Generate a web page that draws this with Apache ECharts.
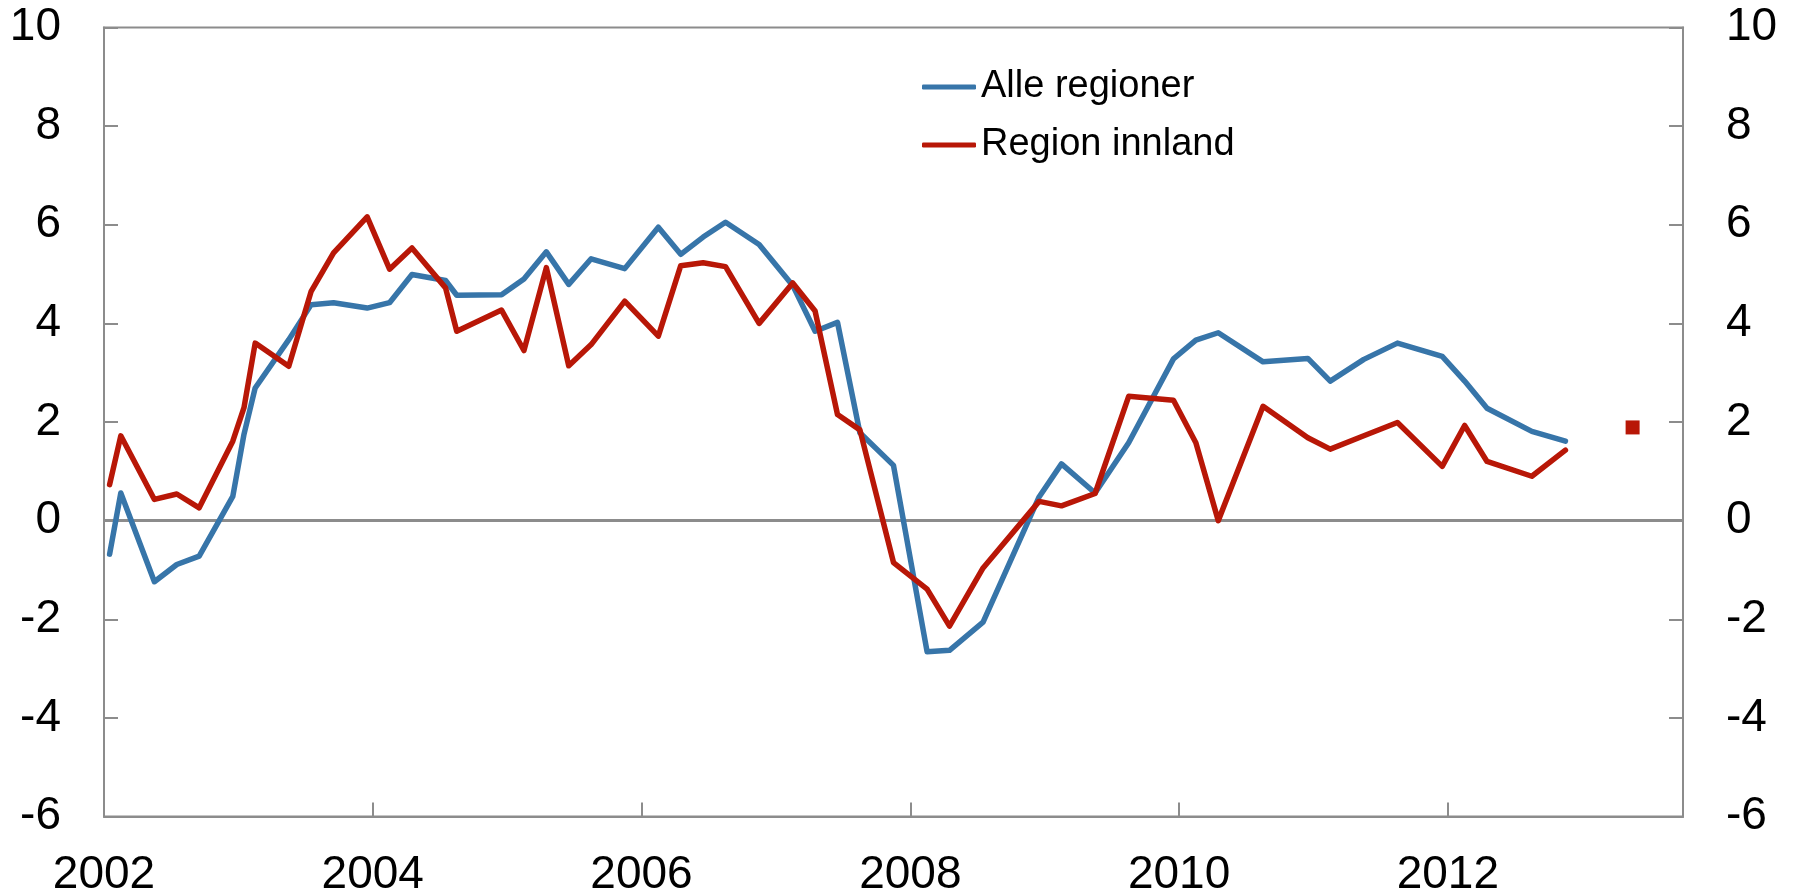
<!DOCTYPE html>
<html>
<head>
<meta charset="utf-8">
<script src="https://cdn.jsdelivr.net/npm/echarts@6/dist/echarts.min.js"></script>
<style>
html,body{margin:0;padding:0;background:#fff;}
#chart{width:1795px;height:895px;}
</style>
</head>
<body>
<div id="chart"></div>
<script>
// Survey dates (year-month)
const dates = [
  '2002-01','2002-02','2002-05','2002-07','2002-09','2002-12',
  '2003-01','2003-02','2003-05','2003-07','2003-09','2003-12',
  '2004-02','2004-04','2004-07','2004-08','2004-12',
  '2005-02','2005-04','2005-06','2005-08','2005-11',
  '2006-02','2006-04','2006-06','2006-08','2006-11',
  '2007-02','2007-04','2007-06','2007-08','2007-11',
  '2008-02','2008-04','2008-07','2008-12',
  '2009-02','2009-05','2009-08','2009-12',
  '2010-02','2010-04','2010-08','2010-12',
  '2011-02','2011-05','2011-08','2011-12',
  '2012-02','2012-04','2012-08','2012-11'
];
const alleRegioner = [
  -0.68, 0.56, -1.24, -0.89, -0.72, 0.49,
  1.75, 2.69, 3.67, 4.38, 4.42, 4.31,
  4.42, 4.99, 4.87, 4.57, 4.58,
  4.90, 5.45, 4.79, 5.31, 5.11,
  5.95, 5.40, 5.75, 6.05, 5.60,
  4.77, 3.84, 4.02, 1.78, 1.12,
  -2.66, -2.63, -2.06, 0.48,
  1.15, 0.56, 1.58, 3.28,
  3.66, 3.81, 3.22, 3.29,
  2.83, 3.27, 3.60, 3.33,
  2.83, 2.28, 1.81, 1.61
];
const regionInnland = [
  0.73, 1.72, 0.43, 0.54, 0.26, 1.61,
  2.29, 3.60, 3.13, 4.65, 5.43, 6.16,
  5.10, 5.53, 4.72, 3.84, 4.27,
  3.45, 5.13, 3.14, 3.57, 4.45,
  3.74, 5.17, 5.23, 5.15, 4.00,
  4.82, 4.25, 2.15, 1.84, -0.85,
  -1.39, -2.14, -0.96, 0.39,
  0.30, 0.55, 2.52, 2.44,
  1.58, 0.00, 2.32, 1.68,
  1.45, 1.72, 1.99, 1.10,
  1.93, 1.20, 0.90, 1.43
];
// Separate marker (Region innland)
const markerDate = '2013-05';
const markerValue = 1.89;

const seriesNames = ['Alle regioner', 'Region innland'];
const xTickYears = [2002, 2004, 2006, 2008, 2010, 2012];
const yTicks = [-6, -4, -2, 0, 2, 4, 6, 8, 10];

function pos(d) {
  const [y, m] = d.split('-').map(Number);
  return y + (m - 0.5) / 12;
}
const blueData = dates.map((d, i) => [pos(d), alleRegioner[i]]);
const redData = dates.map((d, i) => [pos(d), regionInnland[i]]);

const axisGray = '#8c8c8c';
const font = 'Liberation Sans, Arial, sans-serif';
const blue = '#3775a9';
const red = '#b81707';

const yAxisBase = {
  type: 'value',
  min: yTicks[0],
  max: yTicks[yTicks.length - 1],
  interval: 2,
  axisLine: { show: true, lineStyle: { color: axisGray, width: 2 } },
  axisTick: { show: true, inside: true, length: 14, lineStyle: { color: axisGray, width: 2 } },
  axisLabel: { margin: 43, fontSize: 46, color: '#000', fontFamily: font },
  splitLine: { show: false }
};

const chart = echarts.init(document.getElementById('chart'), null, { renderer: 'canvas' });
chart.setOption({
  animation: false,
  backgroundColor: '#fff',
  grid: {
    left: 104, right: 112, top: 27.5, bottom: 78.5,
    containLabel: false,
    outerBoundsMode: 'none',
    show: true, borderColor: axisGray, borderWidth: 2, backgroundColor: 'transparent'
  },
  legend: {
    data: seriesNames,
    orient: 'vertical',
    left: 917,
    top: 63,
    itemWidth: 54,
    itemHeight: 5,
    itemGap: 20,
    icon: 'roundRect',
    textStyle: { fontSize: 38, color: '#000', fontFamily: font, lineHeight: 38 }
  },
  xAxis: {
    type: 'value',
    min: xTickYears[0],
    max: 2013.75,
    interval: 2,
    axisLine: { show: true, onZero: false, lineStyle: { color: axisGray, width: 2 } },
    axisTick: { show: true, inside: true, length: 14, lineStyle: { color: axisGray, width: 2 } },
    axisLabel: {
      margin: 36, fontSize: 46, color: '#000', fontFamily: font,
      showMaxLabel: false,
      formatter: v => (xTickYears.indexOf(Math.round(v)) >= 0 && Math.abs(v - Math.round(v)) < 1e-6) ? String(Math.round(v)) : ''
    },
    splitLine: { show: false }
  },
  yAxis: [
    Object.assign({}, yAxisBase, { position: 'left' }),
    Object.assign({}, yAxisBase, { position: 'right' })
  ],
  series: [
    {
      name: seriesNames[0],
      type: 'line',
      data: blueData,
      showSymbol: false,
      symbol: 'none',
      lineStyle: { color: blue, width: 5.5, join: 'round', cap: 'round' },
      itemStyle: { color: blue },
      z: 3,
      markLine: {
        silent: true,
        symbol: 'none',
        label: { show: false },
        lineStyle: { color: axisGray, width: 3, type: 'solid' },
        data: [{ yAxis: 0 }],
        z: 1
      }
    },
    {
      name: seriesNames[1],
      type: 'line',
      data: redData,
      showSymbol: false,
      symbol: 'none',
      lineStyle: { color: red, width: 5.5, join: 'round', cap: 'round' },
      itemStyle: { color: red },
      z: 4
    },
    {
      name: 'marker',
      type: 'scatter',
      data: [[pos(markerDate), markerValue]],
      symbol: 'rect',
      symbolSize: 14,
      itemStyle: { color: red, opacity: 1 },
      z: 5
    }
  ]
});
</script>
</body>
</html>
